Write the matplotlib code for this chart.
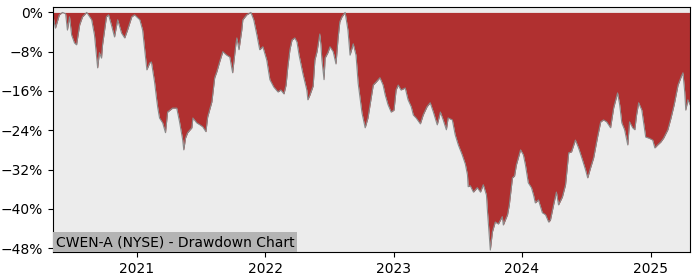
import matplotlib
matplotlib.use("Agg")
import matplotlib.pyplot as plt
import matplotlib.dates as mdates
from matplotlib.ticker import PercentFormatter, MultipleLocator
import pandas as pd

title = "CWEN-A (NYSE) - Drawdown Chart"

dates = [
    "2020-05-07", "2020-05-08", "2020-05-14", "2020-05-25", "2020-06-03", "2020-06-12",
    "2020-06-17", "2020-06-23", "2020-06-29", "2020-07-07", "2020-07-13", "2020-07-22",
    "2020-07-30", "2020-08-11", "2020-08-25", "2020-09-02", "2020-09-11", "2020-09-16",
    "2020-09-22", "2020-09-25", "2020-10-06", "2020-10-12", "2020-10-20", "2020-10-29",
    "2020-11-07", "2020-11-18", "2020-11-27", "2020-12-05", "2020-12-17", "2020-12-25",
    "2021-01-09", "2021-01-17", "2021-01-29", "2021-02-06", "2021-02-11", "2021-02-20",
    "2021-02-26", "2021-03-01", "2021-03-06", "2021-03-15", "2021-03-23", "2021-03-29",
    "2021-04-12", "2021-04-24", "2021-05-02", "2021-05-11", "2021-05-14", "2021-05-19",
    "2021-05-25", "2021-06-06", "2021-06-09", "2021-06-20", "2021-06-29", "2021-07-07",
    "2021-07-16", "2021-07-21", "2021-08-02", "2021-08-10", "2021-08-16", "2021-08-24",
    "2021-09-02", "2021-09-13", "2021-09-22", "2021-09-30", "2021-10-09", "2021-10-12",
    "2021-10-18", "2021-10-26", "2021-10-29", "2021-11-09", "2021-11-21", "2021-11-29",
    "2021-12-08", "2021-12-16", "2021-12-25", "2022-01-05", "2022-01-14", "2022-01-25",
    "2022-02-06", "2022-02-14", "2022-02-23", "2022-03-01", "2022-03-06", "2022-03-12",
    "2022-03-18", "2022-03-26", "2022-04-01", "2022-04-07", "2022-04-18", "2022-04-29",
    "2022-05-02", "2022-05-08", "2022-05-17", "2022-05-22", "2022-05-28", "2022-06-05",
    "2022-06-08", "2022-06-11", "2022-06-17", "2022-06-20", "2022-06-28", "2022-07-04",
    "2022-07-13", "2022-07-21", "2022-07-27", "2022-08-01", "2022-08-07", "2022-08-16",
    "2022-08-24", "2022-08-30", "2022-09-08", "2022-09-16", "2022-09-22", "2022-10-03",
    "2022-10-12", "2022-10-20", "2022-10-26", "2022-11-04", "2022-11-12", "2022-11-23",
    "2022-12-02", "2022-12-08", "2022-12-16", "2022-12-25", "2023-01-02", "2023-01-08",
    "2023-01-14", "2023-01-22", "2023-02-03", "2023-02-11", "2023-02-20", "2023-02-26",
    "2023-03-06", "2023-03-18", "2023-03-26", "2023-04-06", "2023-04-15", "2023-04-24",
    "2023-05-05", "2023-05-14", "2023-05-22", "2023-05-31", "2023-06-05", "2023-06-17",
    "2023-06-25", "2023-07-04", "2023-07-15", "2023-07-24", "2023-07-30", "2023-08-01",
    "2023-08-07", "2023-08-16", "2023-08-27", "2023-09-05", "2023-09-13", "2023-09-22",
    "2023-09-25", "2023-09-30", "2023-10-03", "2023-10-09", "2023-10-17", "2023-10-26",
    "2023-11-06", "2023-11-09", "2023-11-21", "2023-11-26", "2023-12-05", "2023-12-11",
    "2023-12-16", "2023-12-28", "2024-01-05", "2024-01-11", "2024-01-19", "2024-01-28",
    "2024-02-03", "2024-02-08", "2024-02-17", "2024-02-28", "2024-03-08", "2024-03-17",
    "2024-03-22", "2024-03-31", "2024-04-08", "2024-04-14", "2024-04-25", "2024-05-04",
    "2024-05-13", "2024-05-21", "2024-06-01", "2024-06-10", "2024-06-21", "2024-06-30",
    "2024-07-06", "2024-07-14", "2024-07-23", "2024-08-03", "2024-08-12", "2024-08-20",
    "2024-08-29", "2024-09-09", "2024-09-18", "2024-09-29", "2024-10-05", "2024-10-11",
    "2024-10-19", "2024-10-28", "2024-11-02", "2024-11-11", "2024-11-17", "2024-11-22",
    "2024-11-28", "2024-12-07", "2024-12-18", "2024-12-27", "2025-01-07", "2025-01-13",
    "2025-01-21", "2025-01-30", "2025-02-07", "2025-02-19", "2025-02-28", "2025-03-09",
    "2025-03-20", "2025-03-29", "2025-04-03", "2025-04-08", "2025-04-11", "2025-04-17",
    "2025-04-23",
]

drawdown = [
    -0.7, -1.1, -3.2, -0.5, 0.0, -0.3,
    -3.6, -0.9, -4.6, -6.2, -6.6, -2.5,
    -0.9, 0.0, -1.5, -4.6, -11.3, -8.2,
    -9.3, -6.6, -0.9, -0.5, -2.5, -5.0,
    -1.5, -4.2, -5.2, -3.6, -0.9, -0.5,
    -1.5, -3.6, -11.7, -10.3, -10.1, -14.2,
    -17.8, -19.4, -21.5, -22.5, -24.5, -20.3,
    -19.5, -19.5, -22.3, -26.0, -28.0, -25.6,
    -24.5, -23.5, -21.5, -22.5, -22.9, -23.3,
    -24.3, -21.3, -18.2, -13.3, -12.1, -10.1,
    -8.0, -8.7, -9.1, -12.3, -6.6, -5.2,
    -7.6, -3.6, -1.5, -0.5, 0.0, -1.5,
    -4.6, -7.6, -7.0, -9.7, -13.7, -15.2,
    -16.2, -15.8, -16.6, -14.8, -11.1, -7.6,
    -5.6, -5.2, -6.0, -8.7, -12.5, -15.8,
    -17.8, -16.8, -15.0, -9.7, -8.0, -4.4,
    -6.6, -9.7, -13.7, -9.3, -8.2, -7.0,
    -8.0, -10.5, -5.2, -1.9, -0.9, 0.0,
    -3.6, -8.7, -6.4, -8.7, -14.4, -20.5,
    -23.5, -21.5, -18.8, -14.8, -14.2, -13.3,
    -14.8, -16.8, -18.8, -20.3, -19.9, -15.8,
    -14.8, -15.8, -15.4, -17.8, -19.2, -20.9,
    -21.5, -22.7, -20.9, -19.2, -18.4, -20.3,
    -22.9, -20.3, -21.9, -23.9, -21.5, -21.9,
    -24.9, -27.0, -29.0, -30.9, -33.1, -35.5,
    -35.3, -36.6, -35.7, -36.6, -35.1, -37.2,
    -40.6, -45.3, -48.4, -44.7, -42.7, -43.1,
    -41.6, -43.3, -41.2, -39.2, -33.7, -33.3,
    -31.1, -28.0, -29.0, -31.1, -34.7, -35.7,
    -37.2, -38.8, -38.2, -40.8, -41.2, -42.7,
    -42.3, -39.2, -36.6, -39.2, -37.6, -35.1,
    -28.6, -28.4, -26.0, -27.6, -30.0, -32.1,
    -33.7, -31.7, -29.6, -25.4, -22.3, -21.9,
    -22.3, -23.5, -19.4, -16.4, -18.8, -22.5,
    -23.9, -27.0, -22.3, -23.5, -23.9, -20.9,
    -18.4, -19.9, -25.4, -25.6, -26.0, -27.6,
    -27.0, -26.4, -25.6, -23.9, -21.5, -18.8,
    -14.8, -13.1, -12.3, -16.2, -19.9, -17.8,
    -18.8,
]

y_ticks = [0, -8, -16, -24, -32, -40, -48]
year_ticks = ["2021-01-01", "2022-01-01", "2023-01-01", "2024-01-01", "2025-01-01"]

x = pd.to_datetime(dates)

fig = plt.figure(figsize=(7, 2.8), dpi=100)
ax = fig.add_axes([0.0757, 0.1, 0.91, 0.875])
ax.set_facecolor("#ececec")

ax.fill_between(x, drawdown, 0, color="#b03030", linewidth=0)
ax.plot(x, drawdown, color="#8a8a8a", linewidth=0.8)

ax.set_xlim(x[0], x[-1])
ax.set_ylim(-48.8, 1.1)
ax.set_yticks(y_ticks)
ax.yaxis.set_major_formatter(PercentFormatter(decimals=0))
ax.set_xticks(pd.to_datetime(year_ticks))
ax.xaxis.set_major_formatter(mdates.DateFormatter("%Y"))
ax.tick_params(labelsize=10)

ax.text(0.004, 0.012, title, transform=ax.transAxes, fontsize=10,
        ha="left", va="bottom",
        bbox=dict(facecolor="#b4b4b4", edgecolor="none", pad=2))

fig.savefig("out.png", dpi=100)
